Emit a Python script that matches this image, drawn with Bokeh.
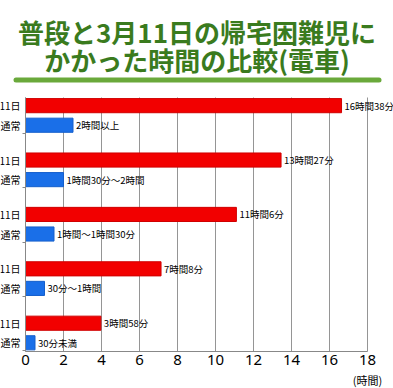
from bokeh.plotting import figure
from bokeh.models import Range1d, FixedTicker, Label, BoxAnnotation, ColumnDataSource
from bokeh.core.properties import value
from bokeh.embed import file_html
from bokeh.resources import INLINE

# ---- data ----
title_lines = ["普段と3月11日の帰宅困難児に", "かかった時間の比較(電車)"]
day_hours = [16, 13, 11, 7, 3]
day_minutes = [38, 27, 6, 8, 58]
day_labels = ["16時間38分", "13時間27分", "11時間6分", "7時間8分", "3時間58分"]
normal_values = [2.5, 2.0, 1.5, 1.0, 0.5]
normal_labels = ["2時間以上", "1時間30分〜2時間", "1時間〜1時間30分", "30分〜1時間", "30分未満"]
row_labels = ["11日", "通常"]
x_ticks = [0, 2, 4, 6, 8, 10, 12, 14, 16, 18]
x_unit_label = "(時間)"

day_values = [h + m / 60 for h, m in zip(day_hours, day_minutes)]

# ---- layout (pixels inside the figure) ----
W, H = 393, 388
XL = 25            # pixel of x = 0
SX = 19.0          # pixels per hour
PT, PB = 97, 351   # pixel rows of plot top / x-axis line
Y_TOP, Y_BOT = -15, 452
GROUP = 100
OFF = 36
BAR_H = 26
SY = (PB - PT) / (Y_BOT - Y_TOP)

def fx(q):
    return (q - XL) / SX

def fy(r):
    return Y_TOP + (r - PT) / SY

n = len(day_values)
y_day = [GROUP * i for i in range(n)]
y_norm = [GROUP * i + OFF for i in range(n)]

FONT = "Noto Sans CJK JP"

p = figure(width=W, height=H, output_backend="svg", toolbar_location=None,
           x_range=Range1d(fx(0), fx(W)), y_range=Range1d(start=fy(H), end=fy(0)),
           min_border=0)
p.title.visible = False
p.outline_line_color = None
p.background_fill_color = "white"
p.border_fill_color = "white"
p.xgrid.visible = False
p.ygrid.visible = False

# grid lines (limited to the plot region)
p.segment(x0=x_ticks, y0=[Y_TOP] * len(x_ticks), x1=x_ticks, y1=[Y_BOT] * len(x_ticks),
          line_color="#959595", line_width=1)

day_src = ColumnDataSource(dict(y=y_day, v=day_values, lab=day_labels))
norm_src = ColumnDataSource(dict(y=y_norm, v=normal_values, lab=normal_labels))

p.hbar(y="y", left=0, right="v", height=BAR_H, source=day_src,
       fill_color="#f20000", line_color="#d00000", line_width=1)
p.hbar(y="y", left=0, right="v", height=BAR_H, source=norm_src,
       fill_color="#1a6fe8", line_color="#155fcc", line_width=1)

for src in (day_src, norm_src):
    p.text(x="v", y="y", text="lab", source=src, x_offset=3,
           text_baseline="middle", text_align="left", text_font_size="9.5px",
           text_font=value(FONT), text_color="black")

# axes drawn at fixed positions inside the figure
p.xaxis.fixed_location = Y_BOT
p.xaxis.bounds = (x_ticks[0], x_ticks[-1])
p.xaxis.ticker = FixedTicker(ticks=x_ticks)
p.xaxis.major_tick_out = 0
p.xaxis.major_tick_in = 0
p.xaxis.minor_tick_out = 0
p.xaxis.minor_tick_in = 0
p.xaxis.axis_line_color = "#888888"
p.xaxis.major_label_text_font_size = "15px"
p.xaxis.major_label_text_font = "Noto Sans"
p.xaxis.major_label_text_color = "black"
p.xaxis.major_label_standoff = 3

yt = []
ylab = {}
for i in range(n):
    yt += [y_day[i], y_norm[i]]
    ylab[y_day[i]] = row_labels[0]
    ylab[y_norm[i]] = row_labels[1]
p.yaxis.fixed_location = 0
p.yaxis.bounds = (Y_TOP, Y_BOT)
p.yaxis.ticker = FixedTicker(ticks=yt, minor_ticks=[GROUP * i + 51 for i in range(n)])
p.yaxis.major_label_overrides = ylab
p.yaxis.major_tick_out = 0
p.yaxis.major_tick_in = 0
p.yaxis.minor_tick_out = 3
p.yaxis.minor_tick_in = 0
p.yaxis.minor_tick_line_color = "#888888"
p.yaxis.axis_line_color = "#888888"
p.yaxis.major_label_text_font_size = "10px"
p.yaxis.major_label_text_font = FONT
p.yaxis.major_label_text_color = "black"
p.yaxis.major_label_standoff = 2

# title, rule and unit label
for txt, cy in zip(title_lines, [31, 59]):
    p.add_layout(Label(x=fx(W / 2), y=fy(cy), text=txt, text_align="center",
                       text_baseline="middle", text_font_size="26px",
                       text_font_style="bold", text_font=FONT, text_color="#3a7b1e"))
p.add_layout(BoxAnnotation(left=fx(13), right=fx(381), top=fy(77), bottom=fy(82),
                           fill_color="#6aa93b", fill_alpha=1, line_color=None,
                           border_radius=3))
p.add_layout(Label(x=x_ticks[-1], y=fy(379), text=x_unit_label, text_align="center",
                   text_baseline="middle", text_font_size="11px",
                   text_font=FONT, text_color="black"))

open("out.html", "w").write(file_html(p, INLINE))
